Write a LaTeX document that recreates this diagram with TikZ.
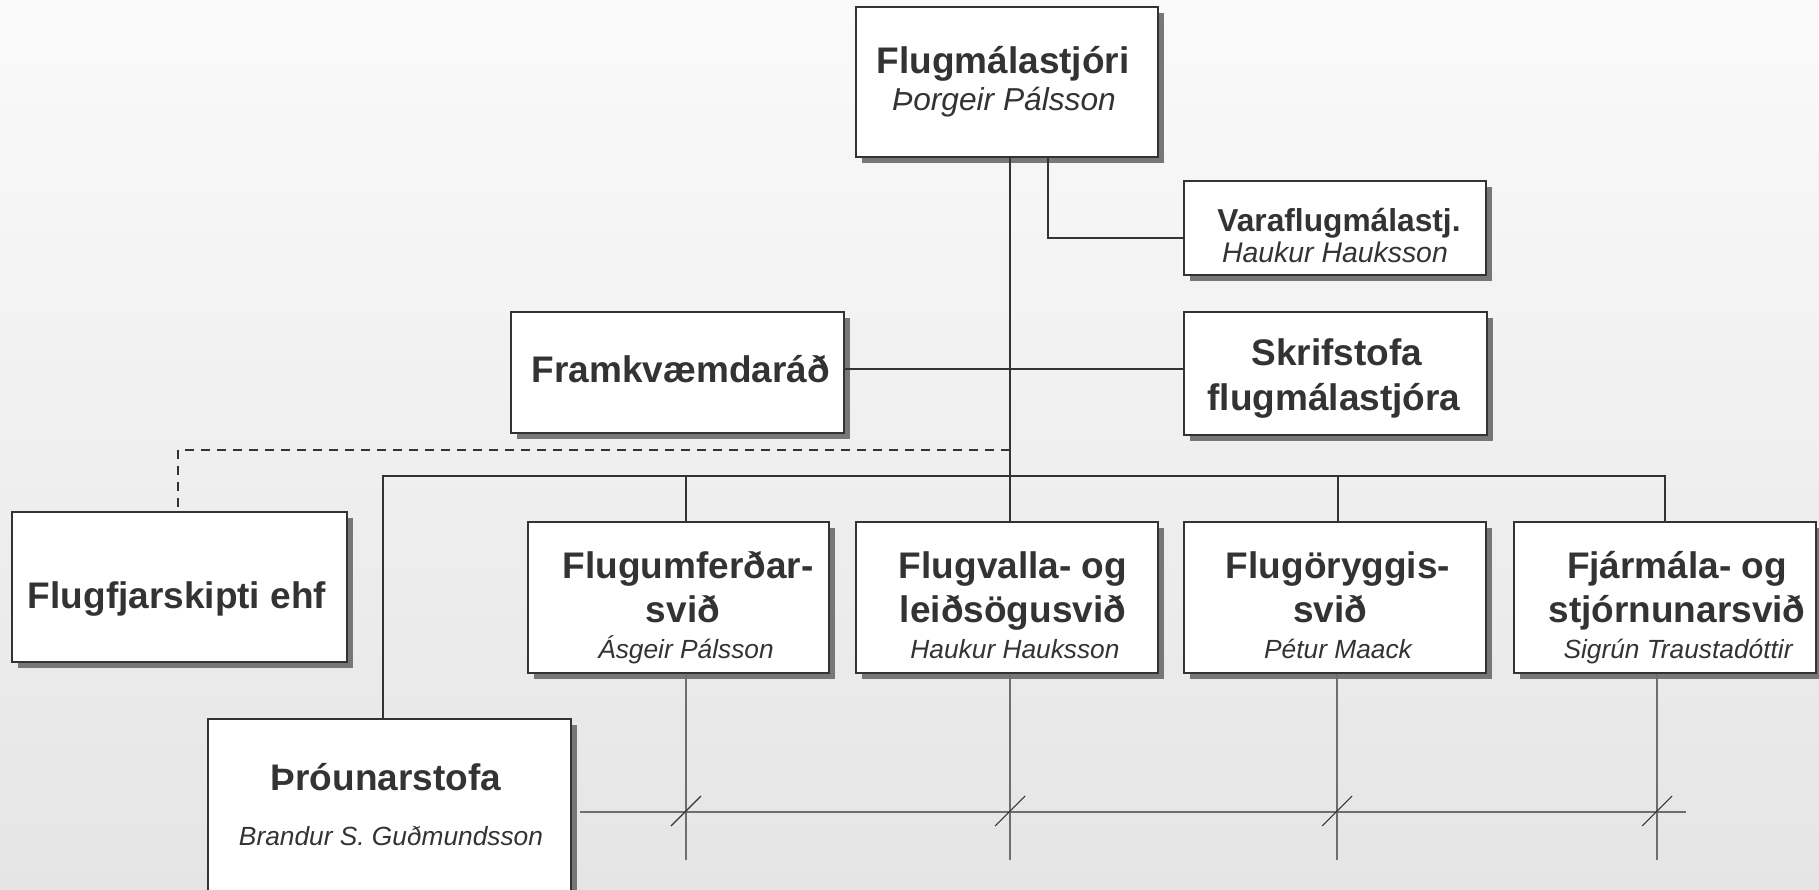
\documentclass[tikz,border=0pt]{standalone}
\usepackage{fontspec}
\setmainfont{Liberation Sans}
\usetikzlibrary{shadows}
\definecolor{ink}{HTML}{333333}
\definecolor{shadowc}{HTML}{777777}
\definecolor{thinc}{HTML}{6E6E6E}
\definecolor{bgtop}{HTML}{FAFAFA}
\definecolor{bgbot}{HTML}{E5E5E5}
\begin{document}
\begin{tikzpicture}[x=1pt,y=-1pt,
  box/.style={draw=ink, line width=2.8pt, fill=white, inner sep=0pt,
    drop shadow={shadow xshift=6pt, shadow yshift=-6pt, fill=shadowc, opacity=1}},
  bf/.style={anchor=base, text=ink, inner sep=0pt, font=\fontsize{37}{44}\selectfont\bfseries},
  bfs/.style={anchor=base, text=ink, inner sep=0pt, font=\fontsize{31.7}{38}\selectfont\bfseries},
  it/.style={anchor=base, text=ink, inner sep=0pt, font=\fontsize{26.3}{32}\selectfont\itshape},
  conn/.style={draw=ink, line width=2.4pt},
  dconn/.style={draw=ink, line width=2.4pt, dash pattern=on 9pt off 7pt},
  thin/.style={draw=thinc, line width=1.5pt},
  slash/.style={draw=ink, line width=1.1pt}]
\useasboundingbox (0,0) rectangle (1819,889);
\clip (0,0) rectangle (1819,889);
\shade[top color=bgtop, bottom color=bgbot] (0,0) rectangle (1819,889);

% boxes
\node[box, minimum width=302pt, minimum height=150pt] (top) at (1007,82) {};
\node[box, minimum width=302pt, minimum height=94pt] (vara) at (1335,228) {};
\node[box, minimum width=333pt, minimum height=121pt] (framk) at (677.5,372.5) {};
\node[box, minimum width=303pt, minimum height=123pt] (skrif) at (1335.5,373.5) {};
\node[box, minimum width=335pt, minimum height=150pt] (flugfj) at (179.5,587) {};
\node[box, minimum width=301pt, minimum height=151pt] (div1) at (678.5,597.5) {};
\node[box, minimum width=302pt, minimum height=151pt] (div2) at (1007,597.5) {};
\node[box, minimum width=302pt, minimum height=151pt] (div3) at (1335,597.5) {};
\node[box, minimum width=302pt, minimum height=151pt] (div4) at (1665,597.5) {};
\node[box, minimum width=363pt, minimum height=241pt] (throun) at (389.5,839.5) {};

% junction coordinates
\coordinate (trunk) at (1010,476);
\coordinate (vj) at (1048,238);
\coordinate (fs) at (1010,369);
\coordinate (dj) at (1010,450);
\coordinate (dk) at (178,450);
\coordinate (bL) at (383,476);
\coordinate (d1) at (686,476);
\coordinate (d3) at (1338,476);
\coordinate (bR) at (1665,476);

% connectors
\draw[conn] (trunk |- top.south) -- (trunk |- div2.north);
\draw[conn] (vj |- top.south) -- (vj) -- (vj -| vara.west);
\draw[conn] (fs -| framk.east) -- (fs -| skrif.west);
\draw[dconn] (dj) -- (dk) -- (dk |- flugfj.north);
\draw[conn] (bL |- throun.north) -- (bL) -- (bR) -- (bR |- div4.north);
\draw[conn] (d1) -- (d1 |- div1.north);
\draw[conn] (d3) -- (d3 |- div3.north);

% lower grid
\coordinate (hL) at (580,812);
\coordinate (hR) at (1686,812);
\coordinate (v1) at (686,812);
\coordinate (v2) at (1010,812);
\coordinate (v3) at (1337,812);
\coordinate (v4) at (1657,812);
\coordinate (vb) at (0,860);
\draw[thin] (hL) -- (hR);
\draw[thin] (v1 |- div1.south) -- (v1 |- vb);
\draw[thin] (v2 |- div2.south) -- (v2 |- vb);
\draw[thin] (v3 |- div3.south) -- (v3 |- vb);
\draw[thin] (v4 |- div4.south) -- (v4 |- vb);
\foreach \v in {v1,v2,v3,v4}
  \draw[slash] ([shift={(-15,14)}]\v) -- ([shift={(15,-16)}]\v);

% texts
\node[bf] (t0a) at (1003,73) {Flugmálastjóri};
\node[anchor=base, text=ink, inner sep=0pt, font=\fontsize{31.7}{38}\selectfont\itshape] (t0b) at (1004,110) {Þorgeir Pálsson};
\node[bfs] (tva) at (1339,231) {Varaflugmálastj.};
\node[anchor=base, text=ink, inner sep=0pt, font=\fontsize{28.4}{34}\selectfont\itshape] (tvb) at (1335,262) {Haukur Hauksson};
\node[bf] (tfr) at (681,382) {Framkvæmdaráð};
\node[bf] (tsa) at (1337,365) {Skrifstofa};
\node[bf] (tsb) at (1334,410) {flugmálastjóra};
\node[bf] (tfj) at (177,608) {Flugfjarskipti ehf};
\node[bf] (t1a) at (688,578) {Flugumferðar-};
\node[bf] (t1b) at (683,622) {svið};
\node[it] (t1c) at (686,658) {Ásgeir Pálsson};
\node[bf] (t2a) at (1013,578) {Flugvalla- og};
\node[bf] (t2b) at (1013,622) {leiðsögusvið};
\node[it] (t2c) at (1015,658) {Haukur Hauksson};
\node[bf] (t3a) at (1338,578) {Flugöryggis-};
\node[bf] (t3b) at (1330,622) {svið};
\node[it] (t3c) at (1338,658) {Pétur Maack};
\node[bf] (t4a) at (1677,578) {Fjármála- og};
\node[bf] (t4b) at (1677,622) {stjórnunarsvið};
\node[it] (t4c) at (1678,658) {Sigrún Traustadóttir};
\node[bf] (tpa) at (386,790) {Þróunarstofa};
\node[it] (tpb) at (391,845) {Brandur S. Guðmundsson};
\end{tikzpicture}
\end{document}
